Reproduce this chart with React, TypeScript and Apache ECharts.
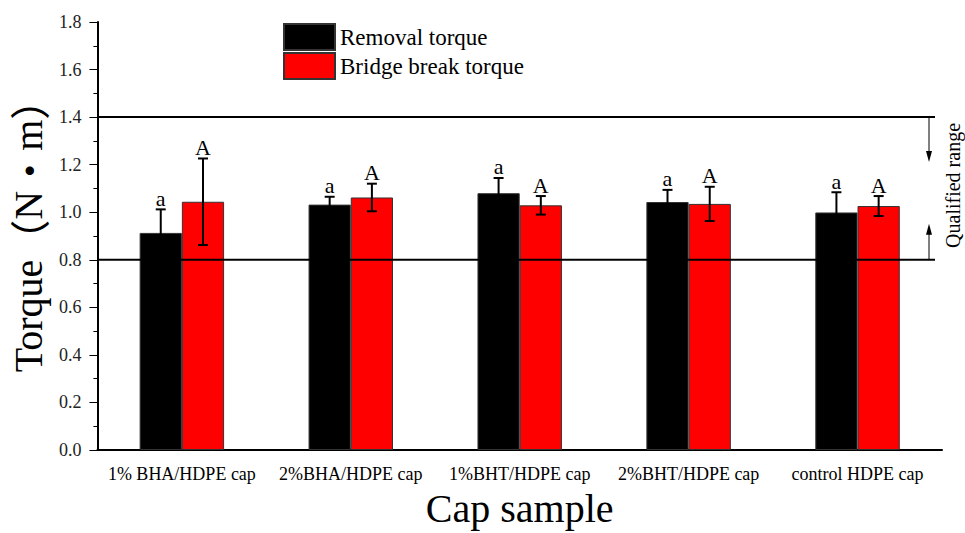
import React, { useEffect, useRef } from "react";
import * as echarts from "echarts";

const categories = [
  "1% BHA/HDPE cap",
  "2%BHA/HDPE cap",
  "1%BHT/HDPE cap",
  "2%BHT/HDPE cap",
  "control HDPE cap",
];
const removalTorque = [0.913, 1.032, 1.08, 1.043, 0.999];
const removalSD = [0.099, 0.033, 0.064, 0.051, 0.085];
const bridgeTorque = [1.044, 1.062, 1.029, 1.035, 1.026];
const bridgeSD = [0.182, 0.058, 0.039, 0.072, 0.042];
const removalMarks = ["a", "a", "a", "a", "a"];
const bridgeMarks = ["A", "A", "A", "A", "A"];
const qualifiedLimits = [0.8, 1.4];
const yMin = 0;
const yMax = 1.8;
const yInterval = 0.2;

const FONT = "'Liberation Serif', 'Times New Roman', 'Noto Serif CJK SC', 'Noto Sans CJK SC', serif";
const CJK = "'Noto Sans CJK SC', 'Liberation Serif', serif";

function errorSeries(
  name: string,
  values: number[],
  sds: number[],
  marks: string[],
  offsetFrac: number,
  markSize: number
) {
  return {
    type: "custom",
    name: name + "_err",
    z: 10,
    data: values.map((v, i) => [i, v, sds[i]]),
    renderItem: (params: any, api: any) => {
      const idx = api.value(0);
      const val = api.value(1);
      const sd = api.value(2);
      const bandW = api.size([1, 0])[0];
      const c = api.coord([idx, val]);
      const x = c[0] + offsetFrac * bandW;
      const top = api.coord([idx, val + sd])[1];
      const bot = api.coord([idx, val - sd])[1];
      const cap = 5;
      const st = { stroke: "#000", lineWidth: 2 };
      return {
        type: "group",
        children: [
          { type: "line", shape: { x1: x, y1: top, x2: x, y2: bot }, style: st },
          { type: "line", shape: { x1: x - cap, y1: top, x2: x + cap, y2: top }, style: st },
          { type: "line", shape: { x1: x - cap, y1: bot, x2: x + cap, y2: bot }, style: st },
          {
            type: "text",
            style: {
              text: marks[params.dataIndex],
              x: x,
              y: top,
              align: "center",
              verticalAlign: "bottom",
              fontSize: markSize,
              fontFamily: FONT,
              fill: "#000",
            },
          },
        ],
      };
    },
  };
}

export default function App() {
  const ref = useRef<HTMLDivElement>(null);
  useEffect(() => {
    if (!ref.current) return;
    const chart = echarts.init(ref.current, undefined, { renderer: "svg" });
    chart.setOption({
      animation: false,
      textStyle: { fontFamily: FONT },
      grid: { left: 93, right: 23, top: 22, bottom: 77 },
      legend: {
        orient: "vertical",
        left: 278,
        top: 18,
        itemWidth: 51,
        itemHeight: 26,
        itemGap: 1,
        icon: "rect",
        data: ["Removal torque", "Bridge break torque"],
        textStyle: { fontSize: 23, fontFamily: FONT, color: "#000" },
      },
      xAxis: {
        type: "category",
        data: categories,
        name: "Cap sample",
        nameLocation: "middle",
        nameGap: 38,
        nameTextStyle: { fontSize: 40, fontFamily: FONT, color: "#000" },
        axisLine: { lineStyle: { color: "#000", width: 2 } },
        axisTick: { alignWithLabel: true, length: 8, lineStyle: { color: "#000" } },
        axisLabel: { interval: 0, fontSize: 18, fontFamily: FONT, color: "#000", margin: 15 },
      },
      yAxis: {
        type: "value",
        min: yMin,
        max: yMax,
        interval: yInterval,
        name: "Torque{p|（}N{p|•}m{p|）}",
        nameLocation: "middle",
        nameGap: 42,
        nameTextStyle: {
          fontSize: 40,
          fontFamily: FONT,
          color: "#000",
          padding: [0, 0, 0, 20],
          rich: {
            p: { fontSize: 40, fontFamily: CJK, color: "#000" },
          },
        },
        axisLine: { show: true, lineStyle: { color: "#000", width: 2 } },
        axisTick: { show: true, length: 8, lineStyle: { color: "#000" } },
        minorTick: { show: true, splitNumber: 2, length: 4, lineStyle: { color: "#000" } },
        splitLine: { show: false },
        axisLabel: {
          fontSize: 18,
          fontFamily: FONT,
          color: "#222",
          margin: 16,
          formatter: (v: number) => v.toFixed(1),
        },
      },
      series: [
        {
          name: "Removal torque",
          type: "bar",
          data: removalTorque,
          barWidth: "25%",
          barGap: "0%",
          itemStyle: { color: "#000", borderColor: "#333", borderWidth: 1 },
        },
        {
          name: "Bridge break torque",
          type: "bar",
          data: bridgeTorque,
          barWidth: "25%",
          barGap: "0%",
          itemStyle: { color: "#ff0000", borderColor: "#333", borderWidth: 1 },
        },
        errorSeries("Removal torque", removalTorque, removalSD, removalMarks, -0.125, 22),
        errorSeries("Bridge break torque", bridgeTorque, bridgeSD, bridgeMarks, 0.125, 22),
        {
          type: "custom",
          name: "qualified",
          z: 9,
          data: [[0, qualifiedLimits[0], qualifiedLimits[1]]],
          renderItem: (params: any, api: any) => {
            const cs = params.coordSys;
            const yLo = api.coord([0, api.value(1)])[1];
            const yHi = api.coord([0, api.value(2)])[1];
            const x0 = cs.x;
            const x1 = cs.x + cs.width - 7;
            const ax = cs.x + cs.width - 13;
            const st = { stroke: "#000", lineWidth: 2 };
            const thin = { stroke: "#000", lineWidth: 1 };
            return {
              type: "group",
              children: [
                { type: "line", shape: { x1: x0, y1: yHi, x2: x1, y2: yHi }, style: st },
                { type: "line", shape: { x1: x0, y1: yLo, x2: x1, y2: yLo }, style: st },
                { type: "line", shape: { x1: ax, y1: yHi, x2: ax, y2: yHi + 36 }, style: thin },
                {
                  type: "polygon",
                  shape: { points: [[ax - 3, yHi + 34], [ax + 3, yHi + 34], [ax, yHi + 45]] },
                  style: { fill: "#000" },
                },
                { type: "line", shape: { x1: ax, y1: yLo, x2: ax, y2: yLo - 27 }, style: thin },
                {
                  type: "polygon",
                  shape: { points: [[ax - 3, yLo - 25], [ax + 3, yLo - 25], [ax, yLo - 36]] },
                  style: { fill: "#000" },
                },
                {
                  type: "text",
                  x: cs.x + cs.width + 11,
                  y: (yHi + yLo) / 2 - 3,
                  rotation: Math.PI / 2,
                  style: {
                    text: "Qualified range",
                    x: 0,
                    y: 0,
                    align: "center",
                    verticalAlign: "middle",
                    fontSize: 20,
                    fontFamily: FONT,
                    fill: "#000",
                  },
                },
              ],
            };
          },
        },
      ],
    });
    return () => chart.dispose();
  }, []);
  return (
    <div
      ref={ref}
      style={{ position: "fixed", left: 0, top: 0, width: 965, height: 533, background: "#fff" }}
    />
  );
}
